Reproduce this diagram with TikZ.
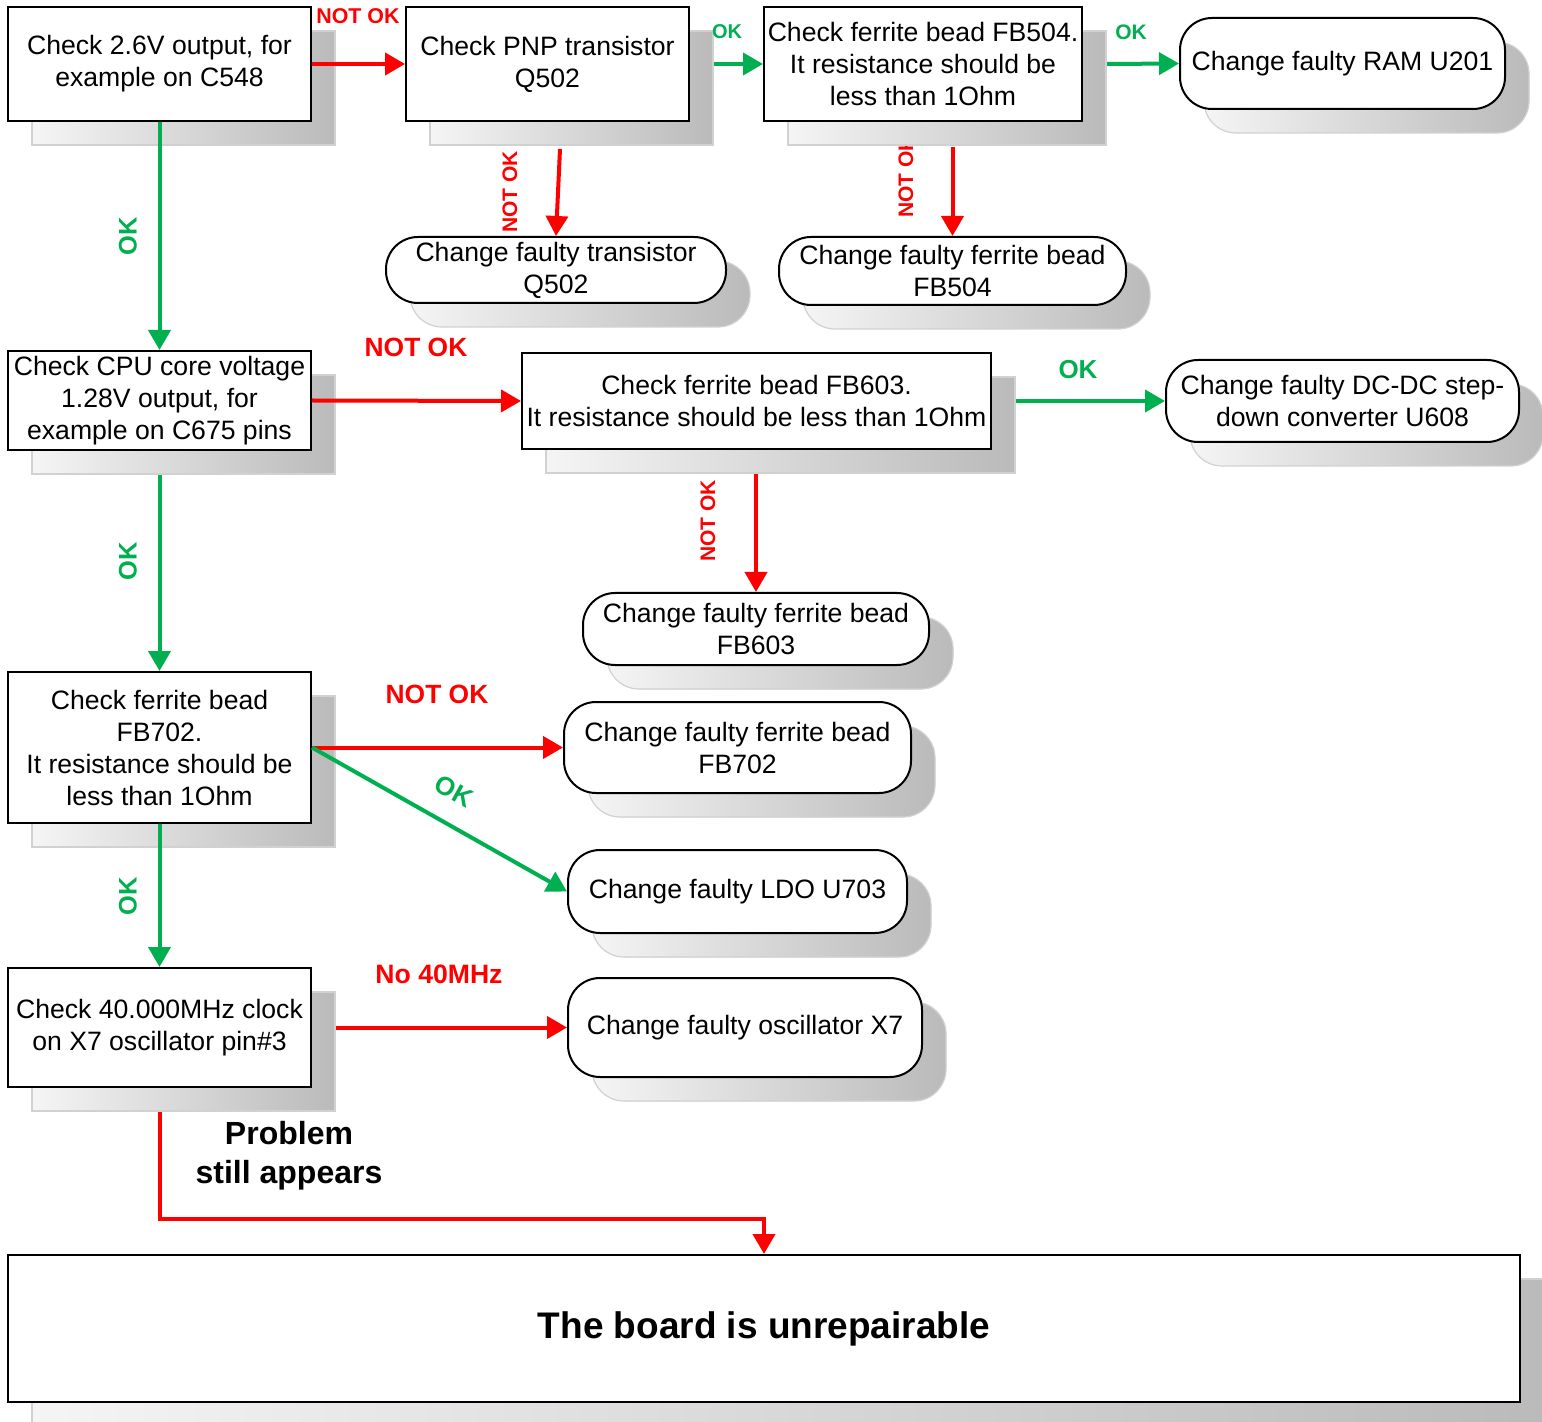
\documentclass[tikz,border=0pt]{standalone}
\usepackage{fontspec}
\setmainfont{Liberation Sans}
\usetikzlibrary{arrows.meta,shadows,calc}
\definecolor{okgreen}{HTML}{00B050}
\definecolor{nokred}{HTML}{FF0000}
\begin{document}
\begin{tikzpicture}[x=0.5pt,y=-0.5pt,
  shd/.style={drop shadow={shadow xshift=12pt,shadow yshift=-12pt,opacity=1,left color=black!4,right color=black!27,draw=black!18,line width=0.6pt}},
  base/.style={draw=black,line width=1pt,fill=white,inner sep=1pt,align=center,font=\fontsize{13.3}{16}\selectfont,shd},
  sq/.style={base},
  rd/.style={base,rounded corners=16pt},
  wh/.style 2 args={minimum width=#1*0.5pt,minimum height=#2*0.5pt},
  ra/.style={draw=nokred,line width=2pt,-{Triangle[length=10pt,width=11pt]}},
  ga/.style={draw=okgreen,line width=2pt,-{Triangle[length=10pt,width=11pt]}},
  lr/.style={text=nokred,inner sep=0pt,font=\bfseries\fontsize{#1}{#1}\selectfont},
  lg/.style={text=okgreen,inner sep=0pt,font=\bfseries\fontsize{#1}{#1}\selectfont},
]
\useasboundingbox (0,0) rectangle (1542,1422);
\fill[white] (0,0) rectangle (1542,1422);

% label partly hidden by the shadow of C
\node[lr=10.5,rotate=90] (l5) at (906,177) {NOT OK};

% nodes
\node[sq,wh={303}{114}] (A) at (159.5,64) {Check 2.6V output, for\\example on C548};
\node[sq,wh={283}{114}] (B) at (547.5,64) {Check PNP transistor\\Q502};
\node[sq,wh={318}{114}] (C) at (923,64) {Check ferrite bead FB504.\\It resistance should be\\less than 1Ohm};
\node[rd,wh={325}{91}] (D) at (1342.5,63.5) {Change faulty RAM U201};
\node[rd,wh={340}{66}] (E) at (556,270) {Change faulty transistor\\Q502};
\node[rd,wh={347}{68}] (F) at (952.5,271) {Change faulty ferrite bead\\FB504};
\node[sq,wh={303}{99}] (G) at (159.5,400.5) {Check CPU core voltage\\1.28V output, for\\example on C675 pins};
\node[sq,wh={469}{96}] (H) at (756.5,401) {Check ferrite bead FB603.\\It resistance should be less than 1Ohm};
\node[rd,wh={353}{82}] (I) at (1342.5,401) {Change faulty DC-DC step-\\down converter U608};
\node[rd,wh={346}{72}] (J) at (756,629) {Change faulty ferrite bead\\FB603};
\node[sq,wh={303}{151}] (K) at (159.5,747.5) {Check ferrite bead\\FB702.\\It resistance should be\\less than 1Ohm};
\node[rd,wh={347}{91}] (L) at (737.5,747.5) {Change faulty ferrite bead\\FB702};
\node[rd,wh={339}{83}] (M) at (737.5,891.5) {Change faulty LDO U703};
\node[sq,wh={303}{119}] (N) at (159.5,1027.5) {Check 40.000MHz clock\\on X7 oscillator pin\#3};
\node[rd,wh={354}{99}] (O) at (745,1027.5) {Change faulty oscillator X7};
\node[sq,wh={1512}{147},font=\bfseries\fontsize{18.5}{22}\selectfont] (P) at (764,1328.5) {The board is unrepairable};

% connectors
\draw[ra] (A.east) -- (B.west);
\draw[ga] ($(B.east)+(24,0)$) -- (C.west);
\draw[ga] ($(C.east)+(24,0)$) -- (D.west);
\draw[ra] ($(B.south)+(12.5,27)$) -- (E.north);
\draw[ra] ($(F.north |- C.south)+(0,25)$) -- (F.north);
\draw[ga] (A.south) -- (G.north);
\draw[ra] (G.east) -- (H.west);
\draw[ga] ($(H.east)+(24,0)$) -- (I.west);
\draw[ra] ($(J.north |- H.south)+(0,24)$) -- (J.north);
\draw[ga] ($(G.south)+(0,24)$) -- (K.north);
\draw[ra] (K.east) -- (L.west);
\draw[ga] (K.east) -- (M.west);
\draw[ga] (K.south) -- (N.north);
\draw[ra] ($(N.east)+(24,0)$) -- (O.west);
\draw[ra] ($(N.south)+(0,24)$) -- ++(0,107) -| (P.north);

% labels
\node[lr=10.7] (l1) at (358,16) {NOT OK};
\node[lg=10] (l2) at (727,32) {OK};
\node[lg=10.5] (l3) at (1131,32) {OK};
\node[lr=10.5,rotate=90] (l4) at (510,192) {NOT OK};
\node[lg=12.7,rotate=90] (l6) at (128,236) {OK};
\node[lr=13.2] (l7) at (416,347) {NOT OK};
\node[lg=13] (l8) at (1078,370) {OK};
\node[lr=10.5,rotate=90] (l9) at (708,521) {NOT OK};
\node[lg=12.7,rotate=90] (l10) at (128,561) {OK};
\node[lr=13.2] (l11) at (437,694) {NOT OK};
\node[lg=13,rotate=-29] (l12) at (454,791) {OK};
\node[lg=12.7,rotate=90] (l13) at (128,896) {OK};
\node[lr=13.3] (l14) at (439,974) {No 40MHz};
\node[inner sep=0pt,align=center,font=\bfseries\fontsize{16}{19.5}\selectfont] (l15) at (289,1156) {Problem\\still appears};
\end{tikzpicture}
\end{document}
